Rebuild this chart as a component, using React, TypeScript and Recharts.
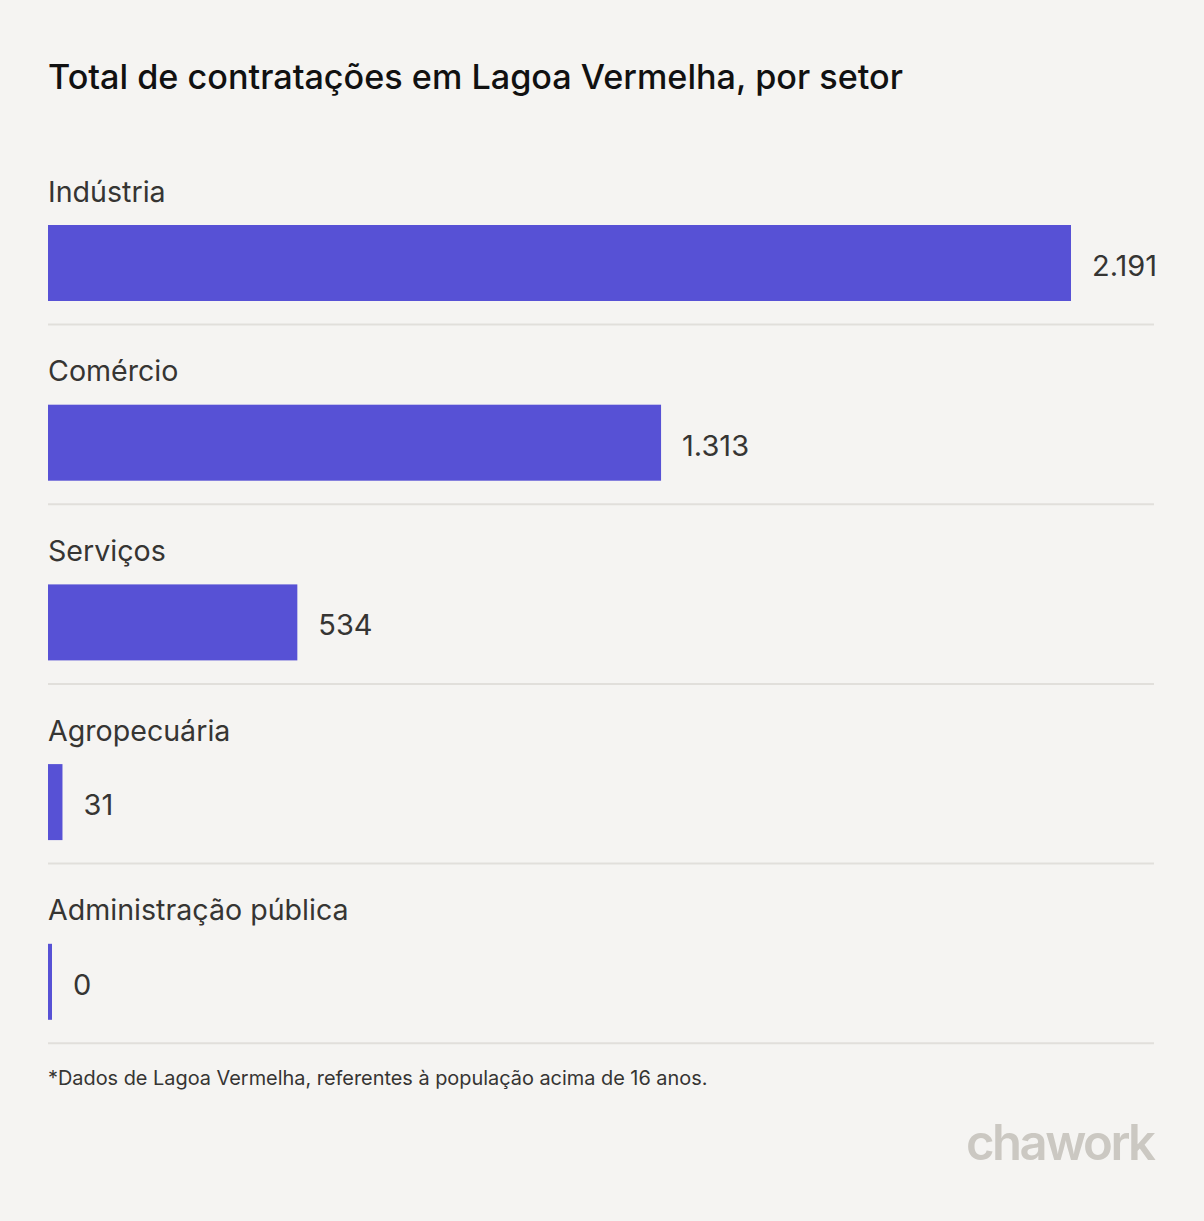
import React from "react";
import { BarChart, Bar, XAxis, YAxis } from "recharts";

const sectors = ["Indústria", "Comércio", "Serviços", "Agropecuária", "Administração pública"];
const hires = [2191, 1313, 534, 31, 0];
const valueLabels = ["2.191", "1.313", "534", "31", "0"];

const data = sectors.map((name, i) => ({ name, value: hires[i], label: valueLabels[i] }));

const BAR_COLOR = "#5751d5";
const TEXT_COLOR = "#363533";
const FONT = "Inter, 'Noto Sans', sans-serif";

const RowShape = (props: any) => {
  const { x, y, width, height, payload } = props;
  const w = Math.max(width, 4);
  return (
    <g>
      <text x={x} y={y - 23.5} fontSize={28.6} fill={TEXT_COLOR} fontFamily={FONT}>
        {payload.name}
      </text>
      <rect x={x} y={y} width={w} height={height} fill={BAR_COLOR} />
      <text x={x + w + 21} y={y + height / 2 + 13} fontSize={29} fill={TEXT_COLOR} fontFamily={FONT}>
        {payload.label}
      </text>
      <line x1={48} x2={1154} y1={y + height + 23.5} y2={y + height + 23.5} stroke="#e1dfdb" strokeWidth={2} />
    </g>
  );
};

export default function App() {
  return (
    <div
      style={{
        position: "absolute",
        left: 0,
        top: 0,
        width: 1204,
        height: 1221,
        background: "#f5f4f2",
        fontFamily: FONT,
        overflow: "hidden",
      }}
    >
      <div style={{ position: "absolute", left: 48, top: 55, fontSize: 34.2, fontWeight: 500, color: "#111", whiteSpace: "nowrap", lineHeight: "44px" }}>
        Total de contratações em Lagoa Vermelha, por setor
      </div>
      <div style={{ position: "absolute", left: 0, top: 0 }}>
        <BarChart
          width={1204}
          height={1221}
          data={data}
          layout="vertical"
          margin={{ top: 173, right: 133, bottom: 149.5, left: 48 }}
          barSize={76}
        >
          <XAxis type="number" domain={[0, 2191]} hide />
          <YAxis type="category" dataKey="name" hide width={0} />
          <Bar dataKey="value" isAnimationActive={false} shape={<RowShape />} />
        </BarChart>
      </div>
      <div style={{ position: "absolute", left: 48, top: 1064, fontSize: 19.9, color: "#363533", whiteSpace: "nowrap", lineHeight: "28px" }}>
        *Dados de Lagoa Vermelha, referentes à população acima de 16 anos.
      </div>
      <div
        style={{
          position: "absolute",
          left: 966,
          top: 1113,
          fontSize: 49,
          fontWeight: 600,
          color: "#cbc8c2",
          letterSpacing: -2.5,
          whiteSpace: "nowrap",
          lineHeight: "60px",
        }}
      >
        chawork
      </div>
    </div>
  );
}
